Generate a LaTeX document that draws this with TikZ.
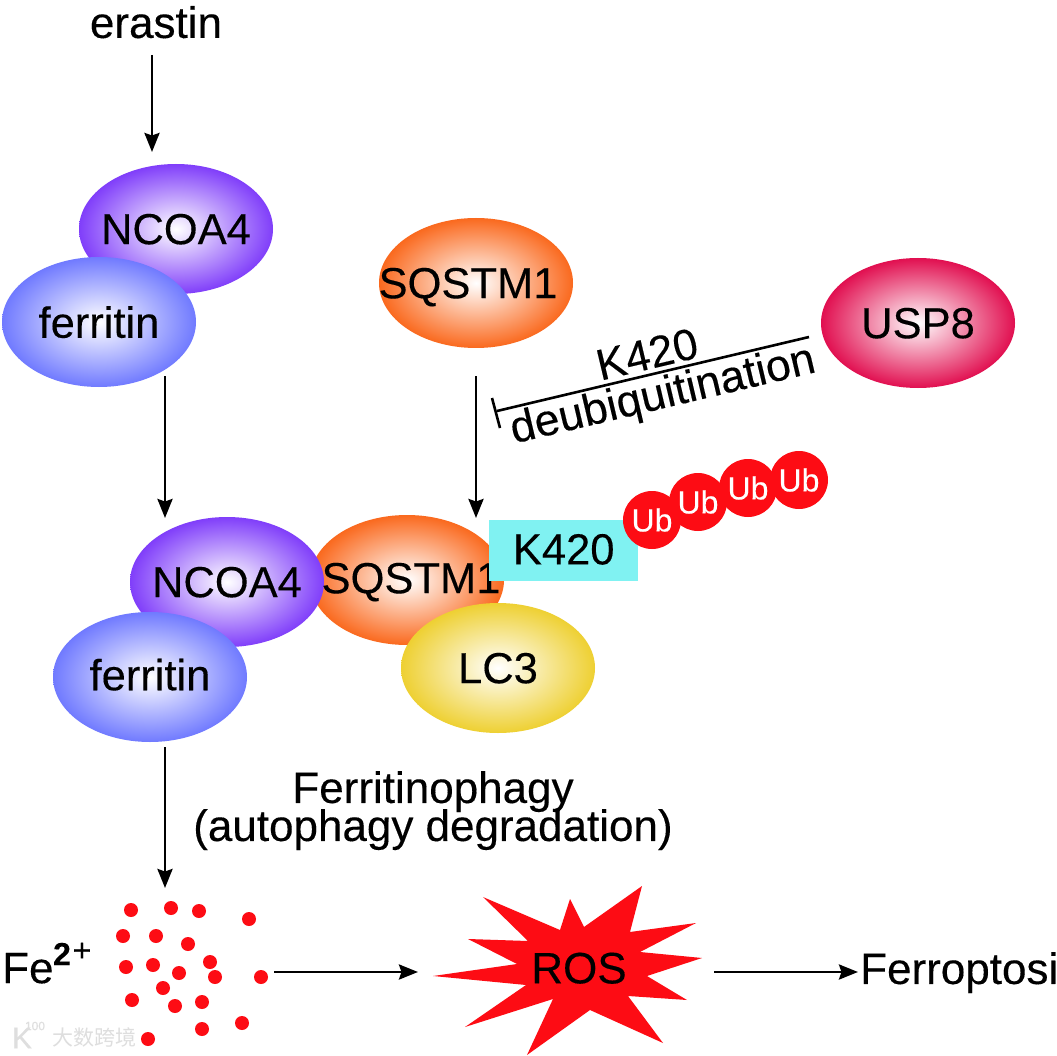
\documentclass[tikz,border=0pt]{standalone}
\usepackage{fontspec}
\setmainfont{Liberation Sans}[FakeBold=0.25]
\newfontfamily\wmfont{Noto Sans CJK SC}
\usetikzlibrary{shapes.geometric,arrows.meta}
\definecolor{purp}{RGB}{128,62,250}
\definecolor{peri}{RGB}{112,122,255}
\definecolor{oran}{RGB}{250,105,30}
\definecolor{crim}{RGB}{225,15,80}
\definecolor{yell}{RGB}{238,208,50}
\definecolor{cyanbox}{RGB}{128,242,242}
\definecolor{redd}{RGB}{253,12,20}
\definecolor{wmgray}{RGB}{222,222,222}
\tikzset{
  x=1pt,y=-1pt,
  blob/.style={ellipse,minimum width=194pt,minimum height=130pt,inner xsep=-50pt,inner ysep=-20pt,font=\fontsize{43.5}{43.5}\selectfont,text=black,text depth=0pt},
  purpleblob/.style={blob,inner color=white,outer color=purp},
  periblob/.style={blob,inner color=white,outer color=peri},
  orangeblob/.style={blob,inner color=white,outer color=oran},
  crimsonblob/.style={blob,inner color=white,outer color=crim},
  yellowblob/.style={blob,inner color=white,outer color=yell},
  lbl/.style={font=\fontsize{44}{44}\selectfont,inner sep=0pt,text=black,text depth=0pt},
  arr/.style={-{Stealth[length=19pt,width=15pt,inset=2.5pt]},line width=2.8pt},
  ubdot/.style={circle,fill=redd,minimum size=58pt,inner sep=0pt,text=white,font=\fontsize{32}{32}\selectfont},
  fedot/.style={circle,fill=redd,minimum size=14pt,inner sep=0pt},
  barline/.style={line width=2.6pt},
  wm/.style={text=wmgray,inner sep=0pt},
}
\begin{document}
\begin{tikzpicture}
\useasboundingbox (0,0) rectangle (1057,1056);
\fill[white] (0,0) rectangle (1057,1056);
\node[lbl] (erastin) at (156,22) {erastin};
\node[purpleblob] (ncoaA) at (176,229) {NCOA4};
\node[periblob] (ferrA) at (99,322) {ferritin};
\node[orangeblob] (sqA) at (476,283) {};
\node[lbl,font=\fontsize{43.5}{43.5}\selectfont] (sqAtext) at (468,283) {SQSTM1};
\node[crimsonblob] (usp) at (918,323) {USP8};
\node[orangeblob] (sqB) at (407,580) {};
\node[purpleblob] (ncoaB) at (227,582) {NCOA4};
\node[lbl,font=\fontsize{43.5}{43.5}\selectfont] (sqBtext) at (411,578) {SQSTM1};
\node[periblob] (ferrB) at (150,677) {\raisebox{5pt}{ferritin}};
\node[yellowblob] (lc3) at (498,668) {LC3};
\node[fill=cyanbox,minimum width=149pt,minimum height=61pt,inner sep=0pt,anchor=north west,font=\fontsize{43.5}{43.5}\selectfont] (k) at (489,520) {\raisebox{3pt}{K420}};
\node[ubdot] (u1) at (652,520) {Ub};
\node[ubdot] (u2) at (698,502) {Ub};
\node[ubdot] (u3) at (748,488) {Ub};
\node[ubdot] (u4) at (799,480) {Ub};
\coordinate (a1) at (152,55); \coordinate (a1e) at (152,152);
\coordinate (a2) at (165,376); \coordinate (a2e) at (165,518);
\coordinate (a3) at (476,376); \coordinate (a3e) at (476,518);
\coordinate (a4) at (165,747); \coordinate (a4e) at (165,888);
\coordinate (a5) at (274,972); \coordinate (a5e) at (418,972);
\coordinate (a6) at (714,972); \coordinate (a6e) at (858,972);
\draw[arr] (a1) -- (a1e);
\draw[arr] (a2) -- (a2e);
\draw[arr] (a3) -- (a3e);
\draw[arr] (a4) -- (a4e);
\draw[arr] (a5) -- (a5e);
\draw[arr] (a6) -- (a6e);
\coordinate (ts) at (809,337); \coordinate (te) at (497,411);
\coordinate (b1) at (492,398); \coordinate (b2) at (500,428);
\draw[barline] (ts) -- (te);
\draw[barline] (b1) -- (b2);
\node[lbl,rotate=13.3] (klab) at (647,354) {K420};
\node[lbl,rotate=13.3,font=\fontsize{44.5}{44.5}\selectfont] (dlab) at (662,392) {deubiquitination};
\node[lbl] (fa) at (433,787) {Ferritinophagy};
\node[lbl] (fb) at (433,825) {(autophagy degradation)};
\node[lbl,anchor=west] (fe) at (2,968) {Fe};
\node[font=\fontsize{32}{32}\selectfont\bfseries,inner sep=0pt] (two) at (62,954) {2};
\node[font=\fontsize{32}{32}\selectfont,inner sep=0pt] (plus) at (82,952) {+};
\fill[redd] (433,976)--(517,964)--(468,939)--(528,941)--(483,897)--(560,930)--(570,899)--(584,927)--(642,886)--(630,932)--(696,923)--(640,952)--(702,958)--(647,976)--(687,1000)--(628,996)--(663,1043)--(590,1010)--(527,1055)--(553,999)--(465,1027)--(526,985)--cycle;
\node[lbl] (ros) at (579,968) {ROS};
\node[lbl,anchor=west] (fer) at (860,968) {Ferroptosi};
\foreach \n/\x/\y in {d1/131/910,d2/171/908,d3/199/911,d4/249/919,d5/123/936,d6/156/936,d7/188/944,d8/126/967,d9/153/965,d10/179/973,d11/210/962,d12/215/977,d13/261/977,d14/163/988,d15/132/1000,d16/175/1006,d17/202/1002,d18/202/1029,d19/242/1023,d20/148/1039}
  \node[fedot] (\n) at (\x,\y) {};
\node[wm,anchor=west,font=\wmfont\fontsize{21}{21}\selectfont] (wm) at (52,1037) {大数跨境};
\node[wm,font=\fontsize{30}{30}\selectfont] (wmk) at (22,1038) {K};
\node[wm,font=\fontsize{12}{12}\selectfont] (wmn) at (35,1026) {100};
\end{tikzpicture}
\end{document}
